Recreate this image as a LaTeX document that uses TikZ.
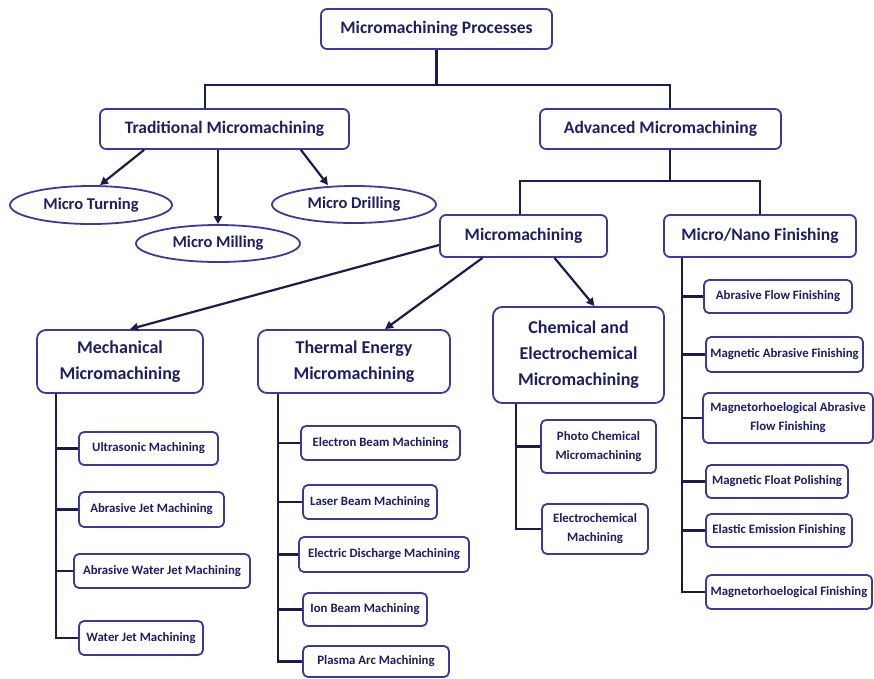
\documentclass[tikz,border=0pt]{standalone}
\usepackage{fontspec}
\setmainfont{Carlito}
\usetikzlibrary{shapes.geometric,arrows.meta}
\definecolor{boxc}{HTML}{3A3A9C}
\definecolor{linec}{HTML}{1C1C4C}
\definecolor{txtc}{HTML}{1E1E66}
\begin{document}
\begin{tikzpicture}[x=1pt,y=-1pt,
  box/.style={draw=boxc,line width=1.8pt,rounded corners=6pt,fill=white,text=txtc,align=center,inner sep=0pt},
  big/.style={box,font=\fontsize{17.5}{20}\selectfont\bfseries},
  mid/.style={box,rounded corners=9pt,font=\fontsize{18}{26}\selectfont\bfseries},
  small/.style={box,rounded corners=5pt,font=\fontsize{12.8}{19}\selectfont\bfseries},
  ell/.style={ellipse,draw=boxc,line width=1.8pt,fill=white,text=txtc,inner sep=0pt,font=\fontsize{16.5}{19}\selectfont\bfseries},
  conn/.style={draw=linec,line width=2.2pt},
  arr/.style={conn,-{Triangle[length=8pt,width=8pt]}}]
\useasboundingbox (0,0) rectangle (874,678);
\fill[white] (0,0) rectangle (874,678);
% top levels
\node[big,minimum width=231pt,minimum height=40pt] (root) at (436.5,29) {Micromachining Processes};
\node[big,minimum width=249pt,minimum height=40pt] (trad) at (224.5,129) {Traditional Micromachining};
\node[big,minimum width=241pt,minimum height=40pt] (adv) at (660.5,129) {Advanced Micromachining};
\node[ell,minimum width=162pt,minimum height=38pt] (turn) at (91,205) {Micro Turning};
\node[ell,minimum width=164pt,minimum height=37pt] (mill) at (218,243.5) {Micro Milling};
\node[ell,minimum width=164pt,minimum height=37pt] (drill) at (354,204.5) {Micro Drilling};
\node[big,minimum width=167pt,minimum height=42pt] (mm) at (523.5,236) {Micromachining};
\node[big,minimum width=192pt,minimum height=42pt] (fin) at (760,236) {Micro/Nano Finishing};
\node[mid,minimum width=166pt,minimum height=63pt] (mech) at (120,361.5) {Mechanical\\Micromachining};
\node[mid,minimum width=192pt,minimum height=63pt] (therm) at (354,361.5) {Thermal Energy\\Micromachining};
\node[mid,minimum width=171pt,minimum height=96pt] (chem) at (578.5,355) {Chemical and\\Electrochemical\\Micromachining};
% mechanical children
\node[small,minimum width=139pt,minimum height=33pt] (us) at (148.5,448.5) {Ultrasonic Machining};
\node[small,minimum width=145pt,minimum height=35pt] (ajm) at (151.5,509.5) {Abrasive Jet Machining};
\node[small,minimum width=176pt,minimum height=34pt] (awjm) at (162,571) {Abrasive Water Jet Machining};
\node[small,minimum width=124pt,minimum height=34pt] (wjm) at (141,638) {Water Jet Machining};
% thermal children
\node[small,minimum width=159pt,minimum height=34pt] (ebm) at (380.5,443) {Electron Beam Machining};
\node[small,minimum width=134pt,minimum height=34pt] (lbm) at (370,502) {Laser Beam Machining};
\node[small,minimum width=170pt,minimum height=35pt] (edm) at (384,554.5) {Electric Discharge Machining};
\node[small,minimum width=124pt,minimum height=33pt] (ibm) at (365,609.5) {Ion Beam Machining};
\node[small,minimum width=146pt,minimum height=31pt] (pam) at (376,661.5) {Plasma Arc Machining};
% chemical children
\node[small,minimum width=115pt,minimum height=53pt] (pcm) at (598.5,446.5) {Photo Chemical\\Micromachining};
\node[small,minimum width=106pt,minimum height=50pt] (ecm) at (595,529) {Electrochemical\\Machining};
% finishing children
\node[small,minimum width=148pt,minimum height=33pt] (aff) at (778,296.5) {Abrasive Flow Finishing};
\node[small,minimum width=157pt,minimum height=35pt] (maf) at (784.5,354.5) {Magnetic Abrasive Finishing};
\node[small,minimum width=170pt,minimum height=50pt] (mraff) at (788,418) {Magnetorhoelogical Abrasive\\Flow Finishing};
\node[small,minimum width=142pt,minimum height=33pt] (mfp) at (777,481.5) {Magnetic Float Polishing};
\node[small,minimum width=146pt,minimum height=33pt] (eef) at (779,530.5) {Elastic Emission Finishing};
\node[small,minimum width=166pt,minimum height=34pt] (mrf) at (789,592) {Magnetorhoelogical Finishing};
% connectors top
\draw[conn] (root.south) -- ++(0,35) -| ([xshift=-19.5pt]trad.north);
\draw[conn] (root.south) ++(0,35) -| ([xshift=9.5pt]adv.north);
\draw[conn] ([xshift=9.5pt]adv.south) -- ++(0,31) -| ([xshift=-3.5pt]mm.north);
\draw[conn] ([xshift=9.5pt]adv.south) ++(0,31) -| (fin.north);
% traditional arrows
\draw[arr] ([xshift=45pt]trad.south west) -- ([xshift=9pt]turn.north);
\draw[arr] (mill.north |- trad.south) -- (mill.north);
\draw[arr] ([xshift=-49pt]trad.south east) -- ([xshift=-26pt]drill.north);
% micromachining arrows
\draw[arr] (mm.west) ++(0,9) -- ([xshift=10pt]mech.north);
\draw[arr] ([xshift=-41pt]mm.south) -- ([xshift=31pt]therm.north);
\draw[arr] ([xshift=31pt]mm.south) -- ([xshift=16pt]chem.north);
% trees
\coordinate (mx) at ([xshift=20pt]mech.south west);
\foreach \n in {us,ajm,awjm,wjm} \draw[conn] (mx) |- (\n.west);
\coordinate (tx) at ([xshift=21pt]therm.south west);
\foreach \n in {ebm,lbm,edm,ibm,pam} \draw[conn] (tx) |- (\n.west);
\coordinate (cx) at ([xshift=24pt]chem.south west);
\foreach \n in {pcm,ecm} \draw[conn] (cx) |- (\n.west);
\coordinate (fx) at ([xshift=-78pt]fin.south);
\foreach \n in {aff,maf,mraff,mfp,eef,mrf} \draw[conn] (fx) |- (\n.west);
\end{tikzpicture}
\end{document}
